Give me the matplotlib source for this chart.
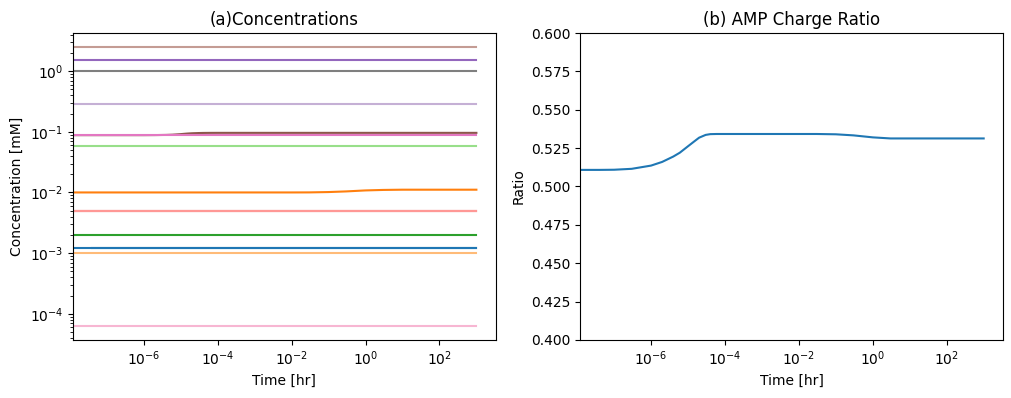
import matplotlib.pyplot as plt

# time grid in hours (t=0 first, clipped to the left edge on the log axis)
t_hr = [0, 4e-8, 1e-7, 3e-7, 1e-6, 2e-6, 4e-6, 6e-6, 1e-5, 1.5e-5, 2e-5, 3e-5,
        4e-5, 6e-5, 1e-4, 1e-3, 1e-2, 3e-2, 1e-1, 3e-1, 1, 3, 10, 100, 1000]

# flat concentrations [mM] (tab20 colour index, level)
flat_idx = [0, 3, 4, 5, 6, 7, 8, 9, 11, 12, 13, 14]
flat_conc = [0.0012, 0.001, 0.002, 0.059, 0.0049, 0.005, 1.55, 0.29, 2.5, 0.090, 6.3e-5, 1.0]

# time-varying concentrations [mM]
conc_orange = [0.01, 0.01, 0.01, 0.01, 0.01, 0.01, 0.01, 0.01, 0.01, 0.01, 0.01, 0.01,
               0.01, 0.01, 0.01, 0.01, 0.01, 0.01002, 0.01015, 0.0104, 0.0108, 0.011,
               0.0111, 0.0111, 0.0111]
conc_brown = [0.088, 0.088, 0.088, 0.088, 0.088, 0.0882, 0.0888, 0.0896, 0.0915, 0.0935,
              0.0945, 0.0953, 0.0957, 0.0959, 0.096, 0.096, 0.096, 0.096, 0.096, 0.096,
              0.096, 0.096, 0.096, 0.096, 0.096]

# AMP charge ratio
ratio = [0.5108, 0.5108, 0.5109, 0.5115, 0.5136, 0.5160, 0.5195, 0.5220, 0.5262, 0.5295,
         0.5318, 0.5336, 0.5341, 0.5342, 0.5342, 0.5342, 0.5342, 0.5342, 0.5340, 0.5333,
         0.5320, 0.5313, 0.5313, 0.5313, 0.5313]

cmap = plt.get_cmap("tab20")

fig, (ax1, ax2) = plt.subplots(1, 2, figsize=(10.12, 3.98), dpi=100)
fig.subplots_adjust(left=0.072, right=0.991, top=0.917, bottom=0.146, wspace=0.2)

order = [0, 2, 3, 4, 5, 6, 7, 8, 9, 10, 11, 12, 13, 14]
for i in order:
    if i == 2:
        ax1.plot(t_hr, conc_orange, color=cmap(2))
    elif i == 10:
        ax1.plot(t_hr, conc_brown, color=cmap(10))
    else:
        v = flat_conc[flat_idx.index(i)]
        ax1.plot([t_hr[0], t_hr[-1]], [v, v], color=cmap(i))
# anchor autoscale to the positive time range
ax1.plot([t_hr[1], t_hr[-1]], [flat_conc[0], flat_conc[0]], color=cmap(0))
ax1.set_xscale("log")
ax1.set_yscale("log")
ax1.set_title("(a)Concentrations")
ax1.set_xlabel("Time [hr]")
ax1.set_ylabel("Concentration [mM]")

ax2.plot(t_hr, ratio, color=cmap(0))
ax2.set_xscale("log")
ax2.set_ylim(0.4, 0.6)
ax2.set_title("(b) AMP Charge Ratio")
ax2.set_xlabel("Time [hr]")
ax2.set_ylabel("Ratio")

plt.savefig("out.png", dpi=100)
